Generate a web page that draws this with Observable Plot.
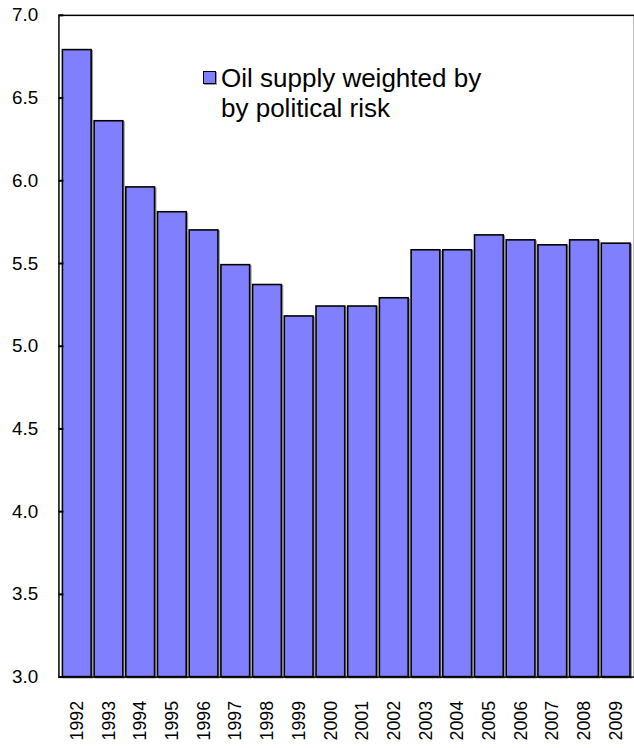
<!DOCTYPE html>
<html>
<head>
<meta charset="utf-8">
<script src="https://cdn.jsdelivr.net/npm/d3@7"></script>
<script src="https://cdn.jsdelivr.net/npm/@observablehq/plot@0.6"></script>
<style>
  html, body { margin: 0; padding: 0; background: #fff; overflow: hidden; }
  #wrap { position: relative; width: 634px; height: 748px; overflow: hidden; }
  #legend { position: absolute; left: 203px; top: 63px; font-family: "Liberation Sans", Arial, sans-serif; font-size: 26px; line-height: 30px; color: #000; }
  #legend .sw { position: absolute; left: 0; top: 8px; width: 11px; height: 11px; background: #8080ff; border: 1.5px solid #000; box-shadow: 1px 1px 0 #999; }
  #legend .tx { margin-left: 18px; }
</style>
</head>
<body>
<div id="wrap">
  <div id="chart"></div>
  <div id="legend"><div class="sw"></div><div class="tx">Oil supply weighted by<br>by political risk</div></div>
</div>
<script>
const years = ["1992","1993","1994","1995","1996","1997","1998","1999","2000","2001","2002","2003","2004","2005","2006","2007","2008","2009"];
const values = [6.79, 6.36, 5.96, 5.81, 5.70, 5.49, 5.37, 5.18, 5.24, 5.24, 5.29, 5.58, 5.58, 5.67, 5.64, 5.61, 5.64, 5.62];
const yTicks = [3.0, 3.5, 4.0, 4.5, 5.0, 5.5, 6.0, 6.5, 7.0];

const data = years.map((year, i) => ({year, value: values[i]}));

const chart = Plot.plot({
  width: 640,
  height: 748,
  marginLeft: 59,
  marginRight: 0,
  marginTop: 15,
  marginBottom: 65,
  style: {fontFamily: "'Liberation Sans', Arial, sans-serif", background: "#fff", color: "#000"},
  x: {domain: years, range: [61, 637.5], paddingInner: 0.1, paddingOuter: 0},
  y: {domain: [3, 7]},
  marks: [
    Plot.barY(data, {x: "year", y1: 3, y2: "value", fill: "none", stroke: "#9a9a9a", strokeWidth: 1.5, dx: 1.2, dy: 1.2}),
    Plot.barY(data, {x: "year", y1: 3, y2: "value", fill: "#8080ff", stroke: "#000", strokeWidth: 1.6}),
    Plot.frame({stroke: "#000", strokeWidth: 1.5}),
    Plot.axisY(yTicks, {text: null, tickSize: 5, dx: 5, strokeWidth: 2, label: null}),
    Plot.axisY(yTicks, {tickSize: 0, tickPadding: 21, tickFormat: d3.format(".1f"), fontSize: 19, label: null}),
    Plot.axisX({tickSize: 0, tickPadding: 24, tickRotate: -90, fontSize: 18, label: null})
  ]
});
document.getElementById("chart").appendChild(chart);
</script>
</body>
</html>
